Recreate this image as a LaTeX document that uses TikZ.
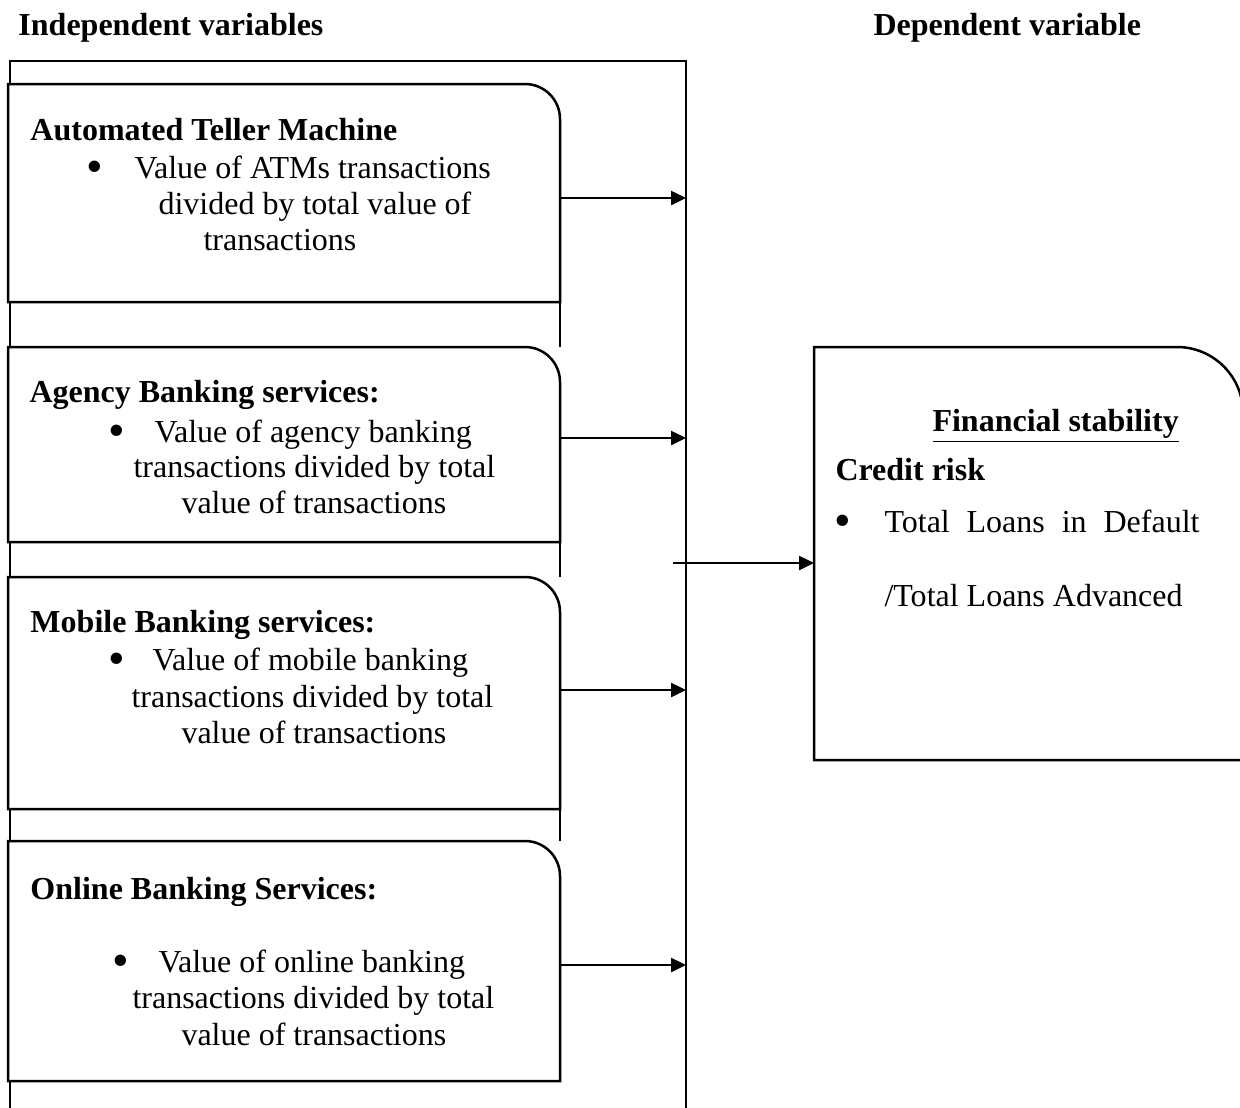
\documentclass[tikz,border=0pt]{standalone}
\usepackage{fontspec}
\setmainfont{Liberation Serif}
\usetikzlibrary{arrows.meta}
\newcommand\rbox[5]{%
  \draw[ln,fill=white] (#1,#4) -- (#1,#2) -- (#3-#5,#2)
    .. controls (#3-0.448*#5,#2) and (#3,#2+0.448*#5) .. (#3,#2+#5)
    -- (#3,#4) -- cycle;}
\newcommand\bul{\raisebox{-1.9pt}{\fontsize{19}{19}\selectfont\textbullet}}
\begin{document}
\begin{tikzpicture}[x=0.4pt,y=-0.4pt,
  txt/.style={anchor=base west,inner sep=0pt,font=\fontsize{12.8}{15}\selectfont},
  hd/.style={anchor=base west,inner sep=0pt,font=\fontsize{12.8}{15}\selectfont\bfseries},
  ln/.style={line width=1pt},
  arr/.style={ln,-{Triangle[length=6pt,width=5.6pt]}}]
\useasboundingbox (0,0) rectangle (1240,1107);
% frame
\coordinate (fbl) at (10,1112);
\coordinate (ftl) at (10,61);
\coordinate (ftr) at (686,61);
\coordinate (fbr) at (686,1112);
\draw[ln] (fbl) -- (ftl) -- (ftr) -- (fbr);
% inner gap lines
\draw[ln] (560,302) -- (560,347);
\draw[ln] (560,542) -- (560,577);
\draw[ln] (560,809) -- (560,841);
% boxes
\rbox{8}{84}{560}{302}{35}
\rbox{8}{347}{560}{542}{35}
\rbox{8}{577}{560}{809}{35}
\rbox{8}{841}{560}{1081}{35}
\rbox{814}{347}{1243}{760}{66}
\draw[ln] (10,302) -- (10,347);
\draw[ln] (10,542) -- (10,577);
\draw[ln] (10,809) -- (10,841);
% headings
\node[hd] (indep) at (18,35) {Independent variables};
\node[hd] (dep) at (873,35) {Dependent variable};
% ATM
\node[hd] (atmT) at (30,140) {Automated Teller Machine};
\node[txt] (atmB) at (86,178) {\bul};
\node[txt] (atm1) at (134,178) {Value of ATMs transactions};
\node[txt] (atm2) at (158,214) {divided by total value of};
\node[txt] (atm3) at (203,250) {transactions};
% Agency
\node[hd] (agT) at (29,402) {Agency Banking services:};
\node[txt] (agB) at (108,442) {\bul};
\node[txt] (ag1) at (154,442) {Value of agency banking};
\node[txt] (ag2) at (133,477) {transactions divided by total};
\node[txt] (ag3) at (181,513) {value of transactions};
% Mobile
\node[hd] (moT) at (30,632) {Mobile Banking services:};
\node[txt] (moB) at (108,670) {\bul};
\node[txt] (mo1) at (152,670) {Value of mobile banking};
\node[txt] (mo2) at (131,707) {transactions divided by total};
\node[txt] (mo3) at (181,743) {value of transactions};
% Online
\node[hd] (onT) at (30,899) {Online Banking Services:};
\node[txt] (onB) at (112,972) {\bul};
\node[txt] (on1) at (158,972) {Value of online banking};
\node[txt] (on2) at (132,1008) {transactions divided by total};
\node[txt] (on3) at (181,1045) {value of transactions};
% Dependent box
\node[hd] (fs) at (932,431) {\underline{Financial stability}};
\node[hd] (cr) at (835,480) {Credit risk};
\node[txt] (tlB) at (834,532) {\bul};
\node[txt] (tl1) at (884,532) {\makebox[126pt][s]{Total Loans in Default}};
\node[txt] (tl2) at (884,606) {/Total Loans Advanced};
% arrows
\coordinate (atmE) at (560,198);  \coordinate (atmF) at (686,198);
\coordinate (agE) at (560,438);   \coordinate (agF) at (686,438);
\coordinate (moE) at (560,690);   \coordinate (moF) at (686,690);
\coordinate (onE) at (560,965);   \coordinate (onF) at (686,965);
\coordinate (cS) at (673,563);    \coordinate (cT) at (814,563);
\draw[arr] (atmE) -- (atmF);
\draw[arr] (agE) -- (agF);
\draw[arr] (moE) -- (moF);
\draw[arr] (onE) -- (onF);
\draw[arr] (cS) -- (cT);
\end{tikzpicture}
\end{document}
